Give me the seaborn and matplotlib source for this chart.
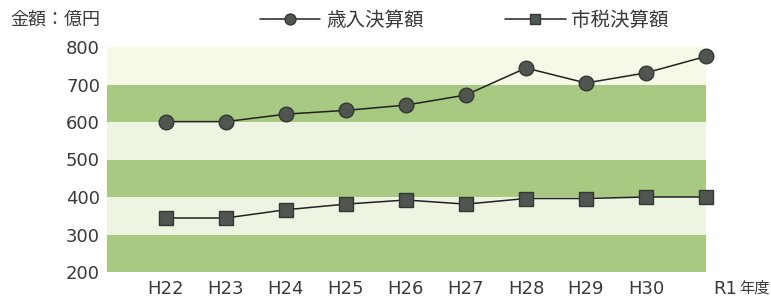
import matplotlib
matplotlib.use("Agg")
import matplotlib.pyplot as plt
from matplotlib.transforms import ScaledTranslation
import seaborn as sns
import pandas as pd

# data
years = ['H22', 'H23', 'H24', 'H25', 'H26', 'H27', 'H28', 'H29', 'H30', 'R1']
revenue = [601, 601, 621, 631, 645, 672, 744, 704, 731, 775]   # 歳入決算額
city_tax = [344, 344, 366, 381, 392, 381, 396, 396, 400, 400]  # 市税決算額
yticks = [200, 300, 400, 500, 600, 700, 800]

sns.set_theme(style='white')
plt.rcParams['font.family'] = ['DejaVu Sans', 'Noto Sans CJK JP']
cjk = ['Noto Sans CJK JP', 'DejaVu Sans']
txt = '#3a3a3a'

df = pd.DataFrame({'year': years, 'x': range(len(years)),
                   'revenue': revenue, 'city_tax': city_tax})

fig = plt.figure(figsize=(7.71, 2.99), dpi=100)
ax = fig.add_axes([107 / 771, 1 - 272 / 299, (706 - 107) / 771, (272 - 47) / 299])

# alternating background bands
green = '#a8c981'
light = '#edf4e1'
for lo in range(200, 800, 100):
    c = green if (lo // 100) % 2 == 0 else light
    ax.axhspan(lo, lo + 100, color=c, lw=0, zorder=0)
ax.axhspan(700, 800, color='#f6f9e8', lw=0, zorder=0)

sns.lineplot(data=df, x='x', y='revenue', ax=ax, color='#222222', lw=1.1,
             marker='o', markersize=10.5, markerfacecolor='#4f554f',
             markeredgecolor='#333833', markeredgewidth=1,
             label='歳入決算額', clip_on=False, zorder=3)
sns.lineplot(data=df, x='x', y='city_tax', ax=ax, color='#222222', lw=1.1,
             marker='s', markersize=10.5, markerfacecolor='#4f554f',
             markeredgecolor='#333833', markeredgewidth=1,
             label='市税決算額', clip_on=False, zorder=3)

ax.set_xlim(-0.98, 9)
ax.set_ylim(200, 800)
ax.set_yticks(yticks)
ax.set_yticklabels([str(v) for v in yticks], fontsize=13, color=txt)
ax.set_xticks(range(len(years)))
ax.set_xticklabels(years, fontsize=13, color=txt)
ax.tick_params(axis='y', length=0, pad=5)
ax.tick_params(axis='x', length=0, pad=6)
# the last year label sits a bit right of its tick, next to 年度
last = ax.get_xticklabels()[-1]
last.set_transform(last.get_transform() + ScaledTranslation(0.19, 0, fig.dpi_scale_trans))
ax.set_xlabel('')
ax.set_ylabel('')
for s in ax.spines.values():
    s.set_visible(False)

fig.text(10 / 771, 1 - 20 / 299, '金額：億円', fontsize=13, color=txt,
         va='center', ha='left', family=cjk)
fig.text(754 / 771, 1 - 288 / 299, '年度', fontsize=11, color=txt,
         va='center', ha='center', family=cjk)

leg = ax.legend(loc='center left', bbox_to_anchor=(260 / 771, 1 - 20 / 299),
                bbox_transform=fig.transFigure, ncol=2, frameon=False,
                prop={'family': cjk, 'size': 14}, handlelength=3.1,
                columnspacing=4.2, handletextpad=0.3, markerscale=0.75,
                borderpad=0, borderaxespad=0, labelcolor=txt)

fig.savefig('out.png', dpi=100)
